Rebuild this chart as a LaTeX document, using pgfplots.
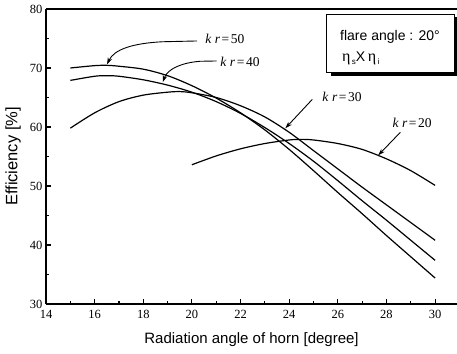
\documentclass[border=0pt]{standalone}
\usepackage{fontspec}
\setmainfont{Liberation Sans}
\newfontfamily\serif{Liberation Serif}
\usepackage{pgfplots}
\pgfplotsset{compat=1.18}
\usetikzlibrary{arrows.meta}

\newcommand{\kr}[1]{{\serif\fontsize{13.5}{14}\selectfont\textit{k}\hspace{0.25em}\textit{r}\hspace{0.12em}=\hspace{0.12em}#1}}

\begin{document}
\begin{tikzpicture}[x=1pt,y=1pt]
\useasboundingbox (0,0) rectangle (457,353);
\begin{axis}[
  at={(46pt,49pt)}, anchor=south west,
  scale only axis, width=411pt, height=295pt,
  xmin=14, xmax=30.9, ymin=30, ymax=80,
  axis x line=box, axis y line=left,
  axis line style={-, line width=1.6pt},
  xtick={14,16,...,30}, minor xtick={15,17,...,29},
  ytick={30,40,...,80}, minor ytick={35,45,...,75},
  xtick pos=bottom, ytick pos=left,
  tick align=inside, major tick length=5pt, minor tick length=3pt,
  every tick/.style={line width=1.1pt, black},
  /pgf/number format/assume math mode=true,
  ticklabel style={font=\serif\fontsize{12.5}{13}\selectfont},
  xticklabel style={yshift=-3pt},
  xlabel={Radiation angle of horn [degree]},
  ylabel={Efficiency [\%]},
  xlabel style={font=\fontsize{15}{16}\selectfont, at={(axis description cs:0.5,-0.122)}, anchor=center},
  ylabel style={font=\fontsize{16.5}{17}\selectfont, at={(axis description cs:-0.08,0.5)}, anchor=center},
  clip=false,
]
% kr = 50
\addplot[black, line width=1.2pt, smooth, tension=0.5] coordinates {
 (15,70.0) (16,70.4) (16.5,70.45) (17,70.3) (18,69.8) (19,68.7) (20,67.0) (21,64.9)
 (22,62.4) (23,59.5) (24,56.2) (25,52.6) (26,48.9) (27,45.3) (28,41.6) (29,38.0) (30,34.4)};
% kr = 40
\addplot[black, line width=1.2pt, smooth, tension=0.5] coordinates {
 (15,67.9) (16,68.6) (16.5,68.7) (17,68.6) (18,68.0) (19,67.1) (20,65.9) (21,64.3)
 (22,62.3) (23,59.9) (24,57.2) (25,54.2) (26,50.9) (27,47.5) (28,44.2) (29,40.8) (30,37.4)};
% kr = 30
\addplot[black, line width=1.2pt, smooth, tension=0.5] coordinates {
 (15,59.8) (16,62.4) (17,64.3) (18,65.4) (19,65.9) (19.5,66.0) (20,65.8) (21,65.0)
 (22,63.6) (23,61.7) (24,59.1) (25,56.0) (26,52.9) (27,49.8) (28,46.8) (29,43.8) (30,40.8)};
% kr = 20
\addplot[black, line width=1.2pt, smooth, tension=0.5] coordinates {
 (20,53.6) (21,55.1) (22,56.3) (23,57.2) (24,57.8) (24.5,57.9) (25,57.8) (26,57.2)
 (27,56.2) (28,54.6) (29,52.6) (30,50.1)};

% annotations
\draw[black, line width=0.9pt, -{Stealth[length=7pt,width=4.5pt]}]
  (axis cs:20.21,74.58) -- (axis cs:18.8,74.45) .. controls (axis cs:17.6,74.2) and (axis cs:16.8,73.2) .. (axis cs:16.51,70.6);
\node[anchor=west, inner sep=0pt] at (axis cs:20.54,75.0) {\kr{50}};
\draw[black, line width=0.9pt, -{Stealth[length=7pt,width=4.5pt]}]
  (axis cs:21.02,71.19) -- (axis cs:20.34,71.14) .. controls (axis cs:19.6,70.9) and (axis cs:19.0,69.9) .. (axis cs:18.80,67.6);
\node[anchor=west, inner sep=0pt] at (axis cs:21.16,70.97) {\kr{40}};
\draw[black, line width=0.9pt, -{Stealth[length=7pt,width=4.5pt]}]
  (axis cs:24.95,64.68) -- (axis cs:23.84,59.78);
\node[anchor=west, inner sep=0pt] at (axis cs:25.36,65.03) {\kr{30}};
\draw[black, line width=0.9pt, -{Stealth[length=7pt,width=4.5pt]}]
  (axis cs:28.57,59.1) -- (axis cs:27.66,55.2);
\node[anchor=west, inner sep=0pt] at (axis cs:28.24,60.63) {\kr{20}};
\end{axis}

% legend box with shadow
\fill[black] (330.5,276.5) rectangle (457,335.5);
\draw[fill=white, line width=0.8pt] (326.7,280.3) rectangle (454,339);
\node[anchor=west, inner sep=0pt, font=\fontsize{14}{15}\selectfont] at (340,316) {flare angle : 20°};
\node[anchor=west, inner sep=0pt, font=\fontsize{14}{15}\selectfont] at (342,295)
  {{\serif\fontsize{16}{17}\selectfont η}\raisebox{-3pt}{\fontsize{8}{9}\selectfont\,s}X{\serif\fontsize{16}{17}\selectfont\,η}\raisebox{-3pt}{\fontsize{8}{9}\selectfont\,i}};
\end{tikzpicture}
\end{document}
